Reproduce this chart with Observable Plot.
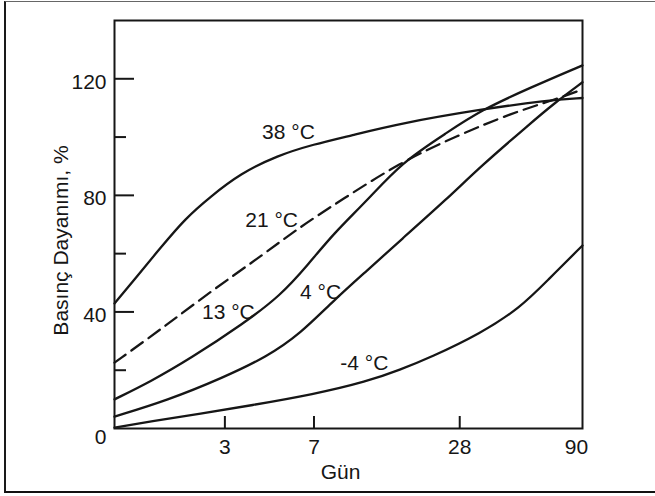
<!DOCTYPE html>
<html><head><meta charset="utf-8">
<script src="https://cdn.jsdelivr.net/npm/d3@7"></script>
<script src="https://cdn.jsdelivr.net/npm/@observablehq/plot@0.6"></script>
<style>
html,body{margin:0;padding:0;background:#fff;overflow:hidden;width:655px;height:496px}
#wrap{position:relative;width:655px;height:496px}
#chart{position:absolute;left:0;top:0}
#border{position:absolute;left:4px;top:1px;width:700px;height:489px;border-left:2px solid #1a1a1a;border-top:1px solid #666;border-bottom:2.5px solid #111;pointer-events:none}
</style></head><body><div id="wrap"><div id="chart"></div><div id="border"></div></div>
<script>
// Series: age (days) and relative compressive strength (%)
const seriesNames = ["38 °C", "21 °C", "13 °C", "4 °C", "-4 °C"];
const days38 = [1.05, 1.28, 1.63, 2.06, 2.62, 3.48, 4.95, 6.97, 9.91, 15.9, 34.1, 64.5, 90];
const vals38 = [42.9, 51.5, 62.1, 72.1, 79.6, 87.5, 93.7, 97.5, 100.5, 104.7, 109.5, 112.6, 113.4];
const days21 = [1.05, 1.63, 2.62, 4.21, 6.16, 9.01, 15.9, 27.3, 46.7, 64.5, 90];
const vals21 = [22.6, 34, 47, 59, 69.3, 78.2, 91.3, 100.5, 108.4, 112, 116.3];
const days13 = [1.05, 1.48, 2.16, 3.58, 5.09, 6.57, 8.43, 11.6, 16.1, 24.9, 34.1, 54.9, 90];
const vals13 = [10, 16.1, 24, 36, 45.6, 55.9, 66.9, 78.2, 91.3, 101.6, 109.1, 117, 124.6];
const days4 = [1.05, 1.73, 2.96, 4.49, 6.16, 8.43, 11.6, 15.9, 24.9, 34.1, 54.9, 68.3, 90];
const vals4 = [4.1, 9.6, 17.5, 24.7, 32.6, 43.9, 54.2, 64.5, 78.9, 89.9, 104.7, 111.4, 118.8];
const daysM4 = [1.05, 1.48, 2.38, 3.83, 6.97, 11.6, 15.9, 21.2, 34.1, 49.9, 64.5, 90];
const valsM4 = [0.3, 2.4, 5.1, 7.9, 11.7, 16.1, 20.2, 24.4, 32.6, 41.5, 50.8, 62.8];

// Curve labels
const labelTexts = ["38 °C", "21 °C", "13 °C", "4 °C", "-4 °C"];
const labelDays = [5.49, 4.68, 3.10, 7.45, 11.3];
const labelValues = [101.6, 71.4, 39.8, 46.7, 22.3];

// Axes
const xTicks = [3, 7, 28];
const xLastTick = [90];
const yMajorTicks = [40, 80, 120];
const yMinorTicks = [20, 60, 100];
const yZeroTick = [0];
const xTitle = "Gün";
const yTitle = "Basınç Dayanımı, %";

const allDays = [days38, days21, days13, days4, daysM4];
const allVals = [vals38, vals21, vals13, vals4, valsM4];
const rows = seriesNames.flatMap((s, k) => allDays[k].map((d, i) => ({series: s, day: d, value: allVals[k][i]})));
const solid = rows.filter(r => r.series !== "21 °C");
const dashed = rows.filter(r => r.series === "21 °C");

const ink = "#161616";
const chart = Plot.plot({
  width: 655, height: 496,
  marginLeft: 114, marginRight: 73, marginTop: 20, marginBottom: 68,
  x: {type: "log", domain: [1.05, 90], axis: null},
  y: {domain: [0, 140]},
  style: {fontFamily: "'Liberation Sans', Arial, sans-serif", fontSize: "21px", color: ink, background: "transparent"},
  marks: [
    Plot.frame({stroke: ink, strokeWidth: 2}),
    Plot.ruleY(yMajorTicks, {y: d => d, insetRight: 448, stroke: ink, strokeWidth: 2}),
    Plot.ruleY(yMinorTicks, {y: d => d, insetRight: 456, stroke: ink, strokeWidth: 2}),
    Plot.ruleX(xTicks, {x: d => d, insetTop: 396, stroke: ink, strokeWidth: 2}),
    Plot.axisY({ticks: yMajorTicks, tickSize: 0, tickPadding: 8, dy: 3, label: null, tickFormat: d => String(d)}),
    Plot.axisY({ticks: yZeroTick, tickSize: 0, tickPadding: 8, dy: 9, label: null, tickFormat: d => String(d)}),
    Plot.text(xTicks, {x: d => d, frameAnchor: "bottom", dy: 19, text: d => String(d), fill: ink, textAnchor: "middle", lineAnchor: "middle"}),
    Plot.text(xLastTick, {x: d => d, frameAnchor: "bottom", dx: -6, dy: 19, text: d => String(d), fill: ink, textAnchor: "middle", lineAnchor: "middle"}),
    Plot.line(solid, {x: "day", y: "value", z: "series", curve: "basis", stroke: ink, strokeWidth: 2.3}),
    Plot.line(dashed, {x: "day", y: "value", curve: "basis", stroke: ink, strokeWidth: 2.3, strokeDasharray: "14,7"}),
    Plot.text(labelTexts, {x: (d, i) => labelDays[i], y: (d, i) => labelValues[i], text: d => d, fill: ink, textAnchor: "middle", lineAnchor: "middle"}),
    Plot.text([xTitle], {frameAnchor: "bottom", dx: -8, dy: 44, text: d => d, fill: ink, textAnchor: "middle", lineAnchor: "middle"}),
    Plot.text([yTitle], {frameAnchor: "left", dx: -53, dy: 16, rotate: -90, text: d => d, fill: ink, textAnchor: "middle", lineAnchor: "middle"})
  ]
});
document.getElementById("chart").appendChild(chart);
</script>
</body></html>
